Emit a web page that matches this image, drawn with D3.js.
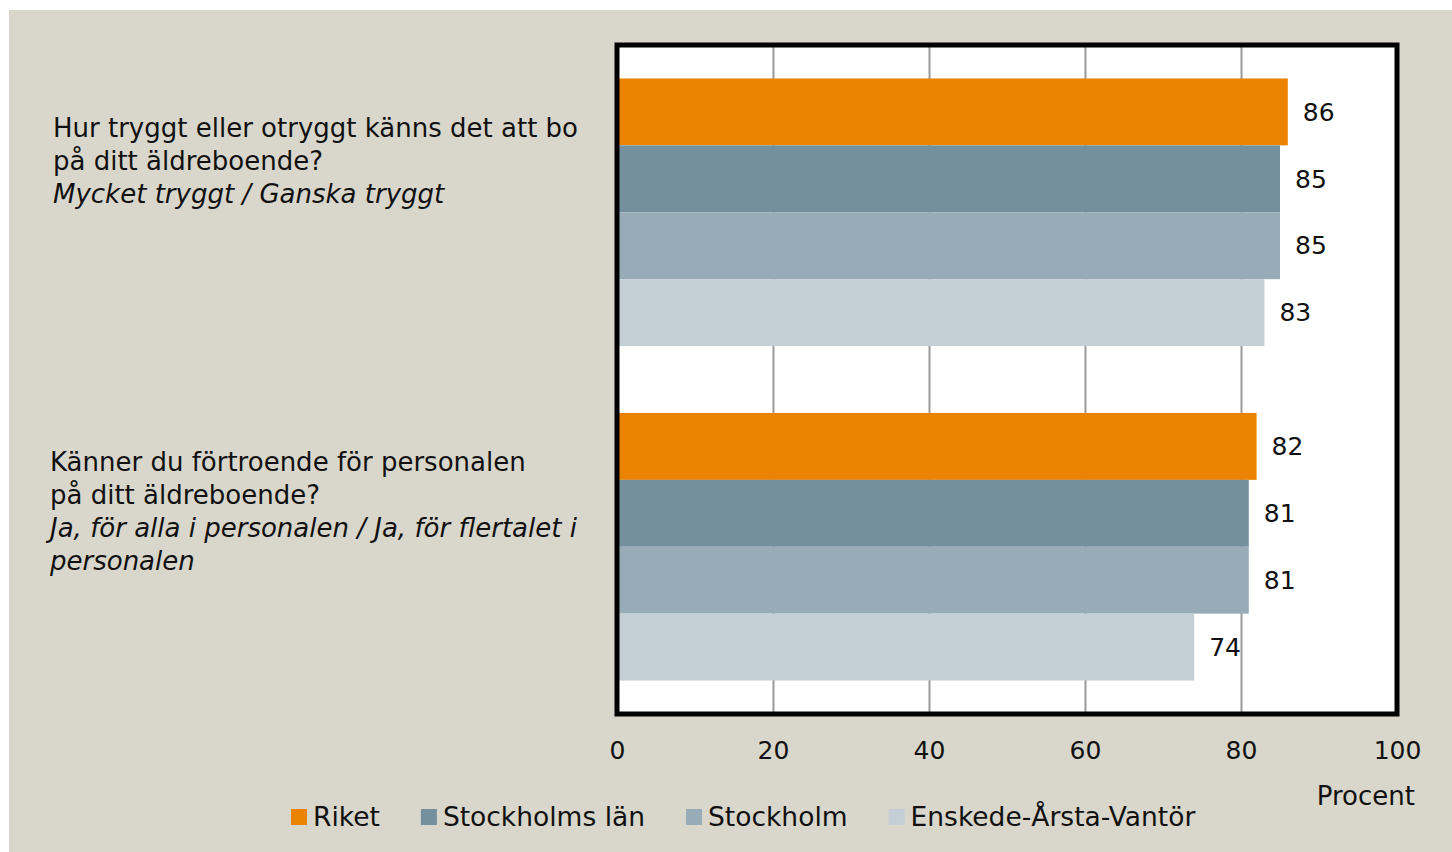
<!DOCTYPE html>
<html>
<head>
<meta charset="utf-8">
<script src="https://cdn.jsdelivr.net/npm/d3@7"></script>
<style>
  body { margin: 0; background: #fff; }
  text { font-family: "DejaVu Sans", sans-serif; fill: #111; }
</style>
</head>
<body>
<svg id="chart"></svg>
<script>
// data
var questions = ["trygg", "fortroende"];
var questionLines = [
  [["Hur tryggt eller otryggt känns det att bo", false], ["på ditt äldreboende?", false], ["Mycket tryggt / Ganska tryggt", true]],
  [["Känner du förtroende för personalen", false], ["på ditt äldreboende?", false], ["Ja, för alla i personalen / Ja, för flertalet i", true], ["personalen", true]]
];
var seriesNames = ["Riket", "Stockholms län", "Stockholm", "Enskede-Årsta-Vantör"];
var riket = [86, 82];
var stockholmsLan = [85, 81];
var stockholm = [85, 81];
var enskede = [83, 74];
var xTicks = [0, 20, 40, 60, 80, 100];
var colors = ["#E98300", "#748F9E", "#98ACB7", "#C3CED5"];

var allSeries = [riket, stockholmsLan, stockholm, enskede];

var width = 1452, height = 852;
var svg = d3.select("#chart").attr("width", width).attr("height", height);

svg.append("rect").attr("x", 9).attr("y", 10).attr("width", width - 9).attr("height", height - 10)
  .attr("fill", "#D9D7CB");

var x = d3.scaleLinear().domain([0, 100]).range([617, 1397]);
var plotTop = 45, plotBottom = 714;

var y0 = d3.scaleBand().domain(questions).range([plotTop, plotBottom]).paddingInner(0.2).paddingOuter(0.1);
var y1 = d3.scaleBand().domain(seriesNames).range([0, y0.bandwidth()]);

// plot background
svg.append("rect").attr("x", x(0)).attr("y", plotTop).attr("width", x(100) - x(0)).attr("height", plotBottom - plotTop)
  .attr("fill", "#fff");

// gridlines
var grid = svg.append("g").attr("transform", "translate(0," + plotBottom + ")")
  .call(d3.axisBottom(x).tickValues([20, 40, 60, 80]).tickSize(-(plotBottom - plotTop)).tickFormat(""));
grid.select(".domain").remove();
grid.selectAll("line").attr("stroke", "#9a9a9a").attr("stroke-width", 2);

// bars
var rows = [];
questions.forEach(function(q, qi) {
  seriesNames.forEach(function(s, si) {
    rows.push({ q: q, s: s, si: si, v: allSeries[si][qi] });
  });
});

svg.selectAll(".bar").data(rows).enter().append("rect")
  .attr("class", "bar")
  .attr("x", x(0))
  .attr("y", function(d) { return y0(d.q) + y1(d.s); })
  .attr("width", function(d) { return x(d.v) - x(0); })
  .attr("height", y1.bandwidth())
  .attr("fill", function(d) { return colors[d.si]; });

svg.selectAll(".val").data(rows).enter().append("text")
  .attr("class", "val")
  .attr("x", function(d) { return x(d.v) + 15; })
  .attr("y", function(d) { return y0(d.q) + y1(d.s) + y1.bandwidth() / 2; })
  .attr("dy", "0.35em")
  .style("font-size", "25px")
  .text(function(d) { return d.v; });

// frame
svg.append("rect").attr("x", x(0)).attr("y", plotTop).attr("width", x(100) - x(0)).attr("height", plotBottom - plotTop)
  .attr("fill", "none").attr("stroke", "#000").attr("stroke-width", 5);

// x axis labels
var xAxis = svg.append("g").attr("transform", "translate(0," + plotBottom + ")")
  .call(d3.axisBottom(x).tickValues(xTicks).tickSize(0).tickPadding(27));
xAxis.select(".domain").remove();
xAxis.selectAll("text").style("font-size", "25px").style("font-family", "DejaVu Sans, sans-serif").attr("fill", "#111");

svg.append("text").attr("x", 1415).attr("y", 805).attr("text-anchor", "end")
  .style("font-size", "26px").text("Procent");

// question labels
questionLines.forEach(function(lines, qi) {
  var g = svg.append("g");
  lines.forEach(function(l, li) {
    g.append("text")
      .attr("x", qi === 0 ? 53 : 50)
      .attr("y", y0(questions[qi]) + 49 + li * 33)
      .attr("dy", "0.35em")
      .style("font-size", "26px")
      .style("font-style", l[1] ? "italic" : "normal")
      .text(l[0]);
  });
});

// legend
var legend = svg.append("g");
var lx = 291;
seriesNames.forEach(function(s, i) {
  legend.append("rect").attr("x", lx).attr("y", 809).attr("width", 16).attr("height", 16).attr("fill", colors[i]);
  var t = legend.append("text").attr("x", lx + 22).attr("y", 817).attr("dy", "0.35em")
    .style("font-size", "26.5px").text(s);
  lx += 22 + t.node().getComputedTextLength() + 41;
});
</script>
</body>
</html>
